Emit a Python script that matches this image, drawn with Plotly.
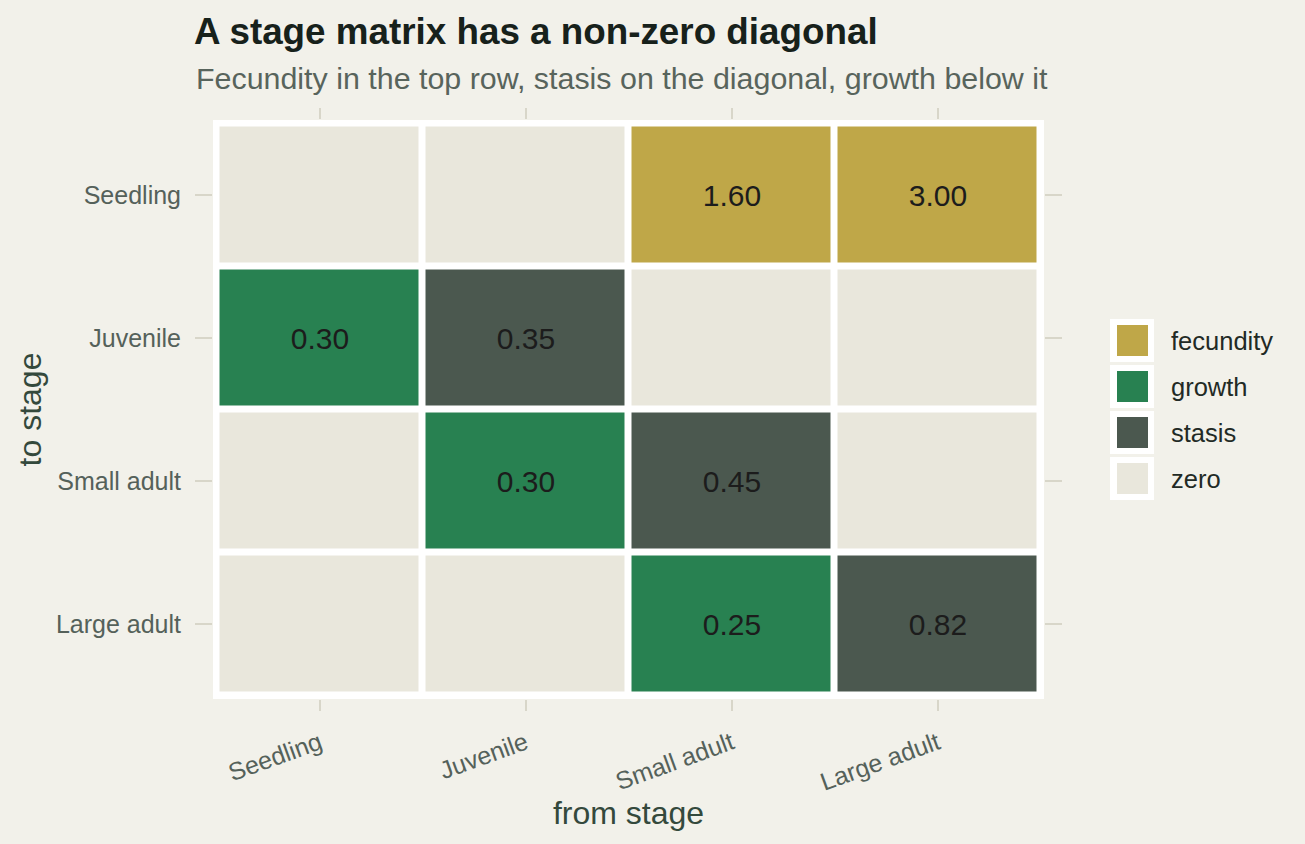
import plotly.graph_objects as go

# ---- data ----
stages = ["Seedling", "Juvenile", "Small adult", "Large adult"]
# rows = to stage, columns = from stage
values = [
    [0.00, 0.00, 1.60, 3.00],
    [0.30, 0.35, 0.00, 0.00],
    [0.00, 0.30, 0.45, 0.00],
    [0.00, 0.00, 0.25, 0.82],
]
roles = [
    ["zero", "zero", "fecundity", "fecundity"],
    ["growth", "stasis", "zero", "zero"],
    ["zero", "growth", "stasis", "zero"],
    ["zero", "zero", "growth", "stasis"],
]
role_names = ["fecundity", "growth", "stasis", "zero"]
role_colors = ["#BFA748", "#288151", "#4B584F", "#E9E7DC"]

# ---- styling ----
W, H = 1305, 844
L, R, T, B = 213, 1044, 120, 699
BG = "#F2F1EA"
FONT = "Liberation Sans, Arial, sans-serif"

z = [[role_names.index(r) for r in row] for row in roles]
text = [[("%.2f" % v) if r != "zero" else "" for v, r in zip(vrow, rrow)]
        for vrow, rrow in zip(values, roles)]

n = len(role_names)
cs = []
for i, c in enumerate(role_colors):
    cs.append([i / n, c])
    cs.append([(i + 1) / n, c])

fig = go.Figure()
fig.add_trace(go.Heatmap(
    x=stages, y=stages, z=z, text=text, texttemplate="%{text}",
    textfont=dict(family=FONT, size=30, color="#1C1C1C"),
    colorscale=cs, zmin=-0.5, zmax=n - 0.5, showscale=False,
    xgap=7, ygap=7, hoverinfo="skip",
))

# pixel helpers for legend placement (paper coords)
def px_x(p):
    return (p - L) / (R - L)

def px_y(p):
    return (B - p) / (B - T)

shapes = []
annotations = []
for i, (name, col) in enumerate(zip(role_names, role_colors)):
    top = 319 + i * 46
    shapes.append(dict(type="rect", xref="paper", yref="paper",
                       x0=px_x(1110), x1=px_x(1154), y0=px_y(top + 43), y1=px_y(top),
                       fillcolor="white", line=dict(width=0), layer="above"))
    shapes.append(dict(type="rect", xref="paper", yref="paper",
                       x0=px_x(1117), x1=px_x(1148), y0=px_y(top + 37), y1=px_y(top + 6),
                       fillcolor=col, line=dict(width=0), layer="above"))
    annotations.append(dict(text=name, xref="paper", yref="paper",
                            x=px_x(1169), y=px_y(top + 22), xanchor="left", yanchor="middle",
                            showarrow=False, font=dict(family=FONT, size=25.5, color="#222A25")))

annotations.append(dict(text="Fecundity in the top row, stasis on the diagonal, growth below it",
                        xref="paper", yref="paper", x=px_x(194), y=px_y(78),
                        xanchor="left", yanchor="middle", showarrow=False,
                        font=dict(family=FONT, size=30.4, color="#58645C")))

ex = 3.5 / 206
ey = 3.5 / 143
fig.update_layout(
    width=W, height=H,
    margin=dict(l=L, r=W - R, t=T, b=H - B, pad=0),
    paper_bgcolor=BG, plot_bgcolor="white",
    title=dict(text="<b>A stage matrix has a non-zero diagonal</b>",
               x=194 / W, xanchor="left", xref="container",
               y=1 - 31 / H, yanchor="middle", yref="container",
               font=dict(family=FONT, size=36.8, color="#17211B")),
    shapes=shapes, annotations=annotations,
    showlegend=False,
    font=dict(family=FONT),
)
fig.update_xaxes(
    type="category", categoryorder="array", categoryarray=stages,
    range=[-0.5 - ex, len(stages) - 0.5 + ex],
    showgrid=False, zeroline=False, showline=False,
    ticks="outside", ticklen=11, tickwidth=1.5, tickcolor="#D8D6C9", mirror="ticks",
    tickangle=-20, ticklabelstandoff=8,
    tickfont=dict(family=FONT, size=25, color="#55615A"),
    title=dict(text="from stage", standoff=5,
               font=dict(family=FONT, size=32, color="#34493C")),
)
fig.update_yaxes(
    type="category", categoryorder="array", categoryarray=stages,
    range=[len(stages) - 0.5 + ey, -0.5 - ey],
    showgrid=False, zeroline=False, showline=False,
    ticks="outside", ticklen=17, tickwidth=1.5, tickcolor="#D8D6C9", mirror="ticks",
    ticklabelstandoff=9,
    tickfont=dict(family=FONT, size=25, color="#55615A"),
    title=dict(text="to stage", standoff=4,
               font=dict(family=FONT, size=32, color="#34493C")),
)

fig.write_html("out.html")
